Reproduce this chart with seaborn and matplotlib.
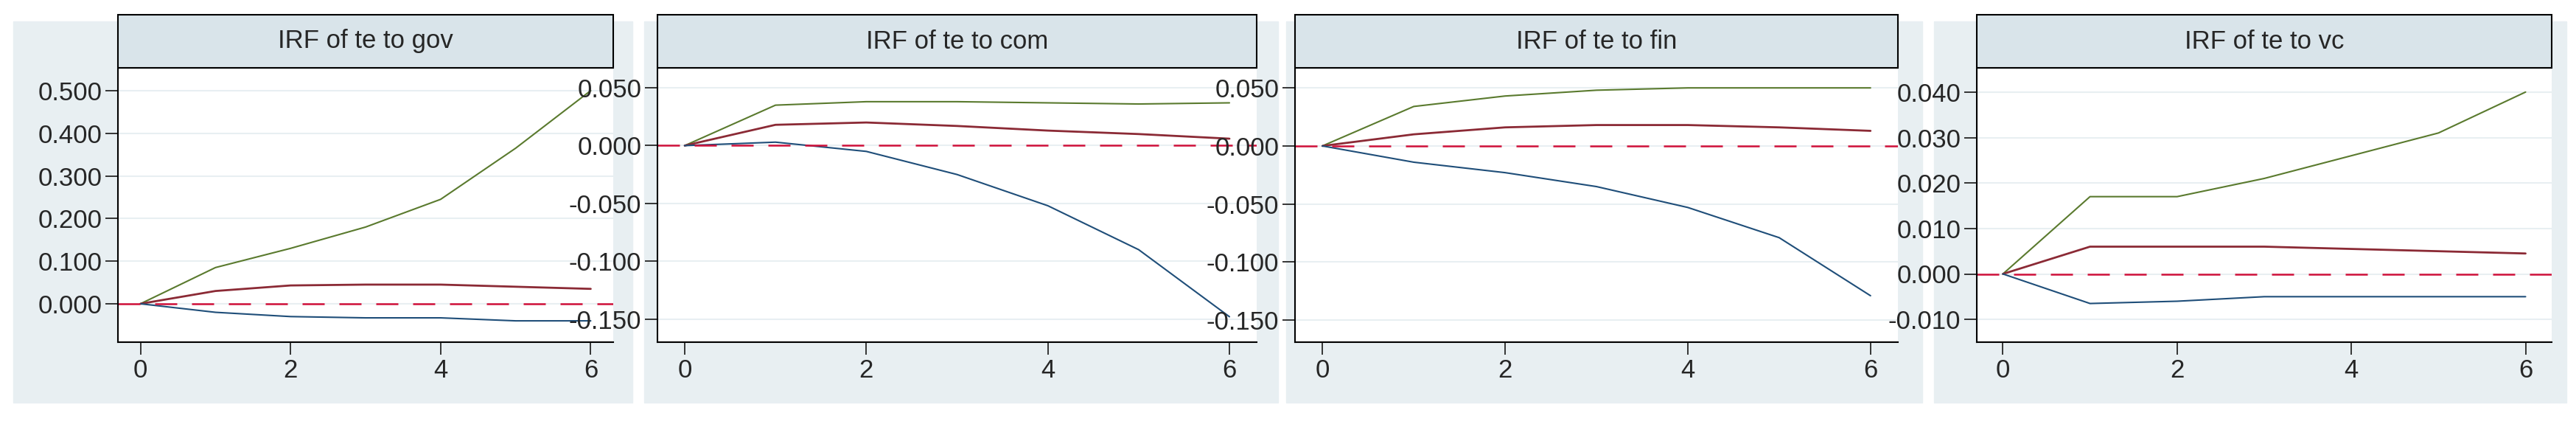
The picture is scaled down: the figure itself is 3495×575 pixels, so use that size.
import numpy as np
import pandas as pd
import matplotlib
matplotlib.use("Agg")
import matplotlib.pyplot as plt
import seaborn as sns

steps = [0, 1, 2, 3, 4, 5, 6]
titles = ["IRF of te to gov", "IRF of te to com", "IRF of te to fin", "IRF of te to vc"]

gov_up = [0, 0.085, 0.13, 0.18, 0.245, 0.365, 0.5]
gov_mid = [0, 0.03, 0.043, 0.045, 0.045, 0.04, 0.035]
gov_lo = [0, -0.02, -0.03, -0.033, -0.033, -0.04, -0.04]

com_up = [0, 0.035, 0.038, 0.038, 0.037, 0.036, 0.037]
com_mid = [0, 0.018, 0.02, 0.017, 0.013, 0.01, 0.006]
com_lo = [0, 0.003, -0.005, -0.025, -0.052, -0.09, -0.148]

fin_up = [0, 0.034, 0.043, 0.048, 0.05, 0.05, 0.05]
fin_mid = [0, 0.01, 0.016, 0.018, 0.018, 0.016, 0.013]
fin_lo = [0, -0.014, -0.023, -0.035, -0.053, -0.079, -0.129]

vc_up = [0, 0.017, 0.017, 0.021, 0.026, 0.031, 0.04]
vc_mid = [0, 0.006, 0.006, 0.006, 0.0055, 0.005, 0.0045]
vc_lo = [0, -0.0065, -0.006, -0.005, -0.005, -0.005, -0.005]

series = [(gov_up, gov_mid, gov_lo), (com_up, com_mid, com_lo),
          (fin_up, fin_mid, fin_lo), (vc_up, vc_mid, vc_lo)]
yticks = [[0, 0.1, 0.2, 0.3, 0.4, 0.5],
          [-0.15, -0.1, -0.05, 0, 0.05],
          [-0.15, -0.1, -0.05, 0, 0.05],
          [-0.01, 0, 0.01, 0.02, 0.03, 0.04]]
ylims = [(-0.09, 0.55), (-0.17, 0.066), (-0.169, 0.066), (-0.015, 0.045)]

bg = "#e8eff2"
c_up, c_mid, c_lo, c_zero = "#5a7a2e", "#8b2a35", "#1f4e79", "#d0103a"

sns.set_style("white")
plt.rcParams["font.family"] = ["Liberation Sans Narrow", "Liberation Sans", "DejaVu Sans"]

W, H = 3495, 575
fig = plt.figure(figsize=(W / 100, H / 100), dpi=100)
fig.patch.set_facecolor("white")

# panel geometry in figure pixels
axes_x = [(160, 832), (892, 1705), (1757, 2575), (2682, 3462)]
bgs_x = [(18, 858), (874, 1734), (1745, 2608), (2624, 3482)]
ax_y0, ax_y1 = H - 464, H - 94

for i in range(4):
    b0, b1 = bgs_x[i]
    fig.patches.append(plt.Rectangle((b0 / W, 29 / H), (b1 - b0) / W, (546 - 29) / H,
                                     transform=fig.transFigure, color=bg, zorder=-2))
    x0, x1 = axes_x[i]
    ax = fig.add_axes([x0 / W, ax_y0 / H, (x1 - x0) / W, (ax_y1 - ax_y0) / H])
    ax.set_zorder(2)
    fig.patches.append(plt.Rectangle((x0 / W, (ax_y1 + 2) / H), (x1 - x0) / W, 72 / H,
                                     transform=fig.transFigure, fc="#d9e4ea", ec="black",
                                     lw=1.5, zorder=1))
    fig.text((x0 + x1) / 2 / W, (ax_y1 + 38) / H, titles[i], fontsize=25,
             ha="center", va="center", zorder=3)
    up, mid, lo = series[i]
    df = pd.DataFrame({"step": steps, "up": up, "mid": mid, "lo": lo})
    sns.lineplot(data=df, x="step", y="up", color=c_up, lw=1.5, ax=ax)
    sns.lineplot(data=df, x="step", y="mid", color=c_mid, lw=2, ax=ax)
    sns.lineplot(data=df, x="step", y="lo", color=c_lo, lw=1.5, ax=ax)
    ax.axhline(0, color=c_zero, lw=1.8, dashes=(12, 8))
    ax.set_xlim(-0.3, 6.3)
    ax.set_ylim(*ylims[i])
    ax.set_xticks([0, 2, 4, 6])
    ax.set_yticks(yticks[i])
    ax.set_yticklabels([f"{v:.3f}" for v in yticks[i]])
    ax.set_xlabel("")
    ax.set_ylabel("")
    ax.grid(axis="y", color=bg, lw=1.5)
    ax.set_axisbelow(True)
    for s in ["top", "right"]:
        ax.spines[s].set_visible(False)
    for s in ["left", "bottom"]:
        ax.spines[s].set_linewidth(1.5)
        ax.spines[s].set_color("black")
    ax.tick_params(axis="both", length=12, width=1.3, labelsize=25, direction="out",
                   left=True, bottom=True)

fig.savefig("out.png", dpi=100)
